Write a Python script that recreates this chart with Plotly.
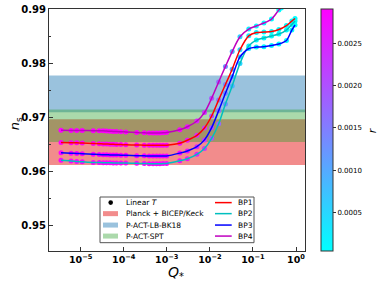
import plotly.graph_objects as go

# ---------------- data ----------------
Q_low = [3.5e-6, 6.0e-6, 8.1e-6, 1.09e-5, 1.96e-5, 2.7e-5, 3.34e-5, 4.0e-5, 4.8e-5,
         5.7e-5, 6.8e-5, 8.6e-5, 1.12e-4, 2.0e-4, 3.0e-4, 3.9e-4, 4.8e-4, 5.8e-4,
         6.9e-4, 8.2e-4, 9.9e-4, 2.0e-3]
Q_high = [3e-3, 5e-3, 7.5e-3, 1.1e-2, 1.6e-2, 2.3e-2, 3.3e-2, 5e-2, 0.08, 0.12,
          0.18, 0.27, 0.4, 0.6, 0.8, 0.95]
Q_bp4_high = [3e-3, 5e-3, 7.5e-3, 1.1e-2, 1.6e-2, 2.3e-2, 3.3e-2, 5e-2, 0.08, 0.12,
              0.18, 0.27, 0.4, 0.46]

r_low = [0.00291, 0.00291, 0.00291, 0.00291, 0.00291, 0.00291, 0.00291, 0.00291,
         0.00291, 0.00291, 0.00291, 0.00291, 0.00290, 0.00290, 0.00290, 0.00290,
         0.00290, 0.00289, 0.00289, 0.00289, 0.00288, 0.00285]
r_high = [0.0027, 0.0025, 0.0023, 0.0020, 0.0017, 0.0013, 0.0009, 0.0005, 0.00025,
          0.00012, 0.00007, 0.00005, 0.00004, 0.00004, 0.00004, 0.00004]
r_bp4_high = [0.0027, 0.0025, 0.0023, 0.0020, 0.0017, 0.0013, 0.0009, 0.0005, 0.00025,
              0.00012, 0.00007, 0.00005, 0.00004, 0.00004]

ns_bp1 = [0.96527, 0.96524, 0.96522, 0.96519, 0.96512, 0.96507, 0.96503, 0.96500,
          0.96498, 0.96495, 0.96493, 0.96490, 0.96486, 0.96482, 0.96479, 0.96477,
          0.96477, 0.96477, 0.96477, 0.96477, 0.96478, 0.96514,
          0.96570, 0.96662, 0.96798, 0.97019, 0.97317, 0.97601, 0.97885, 0.98245,
          0.98503, 0.98564, 0.98573, 0.98583, 0.98620, 0.98694, 0.98777, 0.98824]
ns_bp2 = [0.96199, 0.96188, 0.96178, 0.96170, 0.96160, 0.96157, 0.96155, 0.96153,
          0.96152, 0.96151, 0.96150, 0.96149, 0.96147, 0.96143, 0.96140, 0.96137,
          0.96137, 0.96137, 0.96137, 0.96138, 0.96140, 0.96189,
          0.96228, 0.96310, 0.96419, 0.96605, 0.96876, 0.97241, 0.97575, 0.97993,
          0.98317, 0.98425, 0.98462, 0.98499, 0.98536, 0.98610, 0.98712, 0.98777]
ns_bp3 = [0.96341, 0.96331, 0.96326, 0.96321, 0.96311, 0.96305, 0.96303, 0.96301,
          0.96299, 0.96298, 0.96296, 0.96294, 0.96291, 0.96285, 0.96281, 0.96278,
          0.96278, 0.96278, 0.96278, 0.96279, 0.96280, 0.96332,
          0.96371, 0.96451, 0.96577, 0.96803, 0.97117, 0.97442, 0.97748, 0.98113,
          0.98267, 0.98295, 0.98301, 0.98323, 0.98351, 0.98416, 0.98610, 0.98703]
ns_bp4 = [0.96755, 0.96753, 0.96752, 0.96750, 0.96748, 0.96746, 0.96744, 0.96740,
          0.96737, 0.96733, 0.96730, 0.96727, 0.96724, 0.96714, 0.96708, 0.96705,
          0.96704, 0.96704, 0.96705, 0.96707, 0.96712, 0.96764,
          0.96820, 0.96926, 0.97082, 0.97347, 0.97649, 0.97937, 0.98211, 0.98486,
          0.98629, 0.98685, 0.98740, 0.98814, 0.98981, 0.99020]

bp_names = ["BP1", "BP2", "BP3", "BP4"]
bp_colors = ["rgb(255,0,0)", "rgb(0,191,191)", "rgb(0,0,255)", "rgb(191,0,191)"]

band_names = ["Planck + BICEP/Keck", "P-ACT-LB-BK18", "P-ACT-SPT"]
band_lo = [0.9611, 0.9709, 0.9654]
band_hi = [0.9696, 0.9777, 0.9714]
band_colors = ["rgba(230,25,25,0.5)", "rgba(31,119,180,0.45)", "rgba(44,160,44,0.4)"]

y_ticks = [0.95, 0.96, 0.97, 0.98, 0.99]
x_ticks = [1e-5, 1e-4, 1e-3, 1e-2, 1e-1, 1e0]
x_tick_text = ["10<sup>\u22125</sup>", "10<sup>\u22124</sup>", "10<sup>\u22123</sup>",
               "10<sup>\u22122</sup>", "10<sup>\u22121</sup>", "10<sup>0</sup>"]
cb_ticks = [0.0005, 0.0010, 0.0015, 0.0020, 0.0025]
r_min, r_max = 0.00004, 0.00291

# ---------------- figure ----------------
W, H = 381, 285
L, R, T, B = 49, 76, 9, 34.4
PW, PH = W - L - R, H - T - B


def px2x(px):
    return (px - L) / PW


def py2y(py):
    return (H - B - py) / PH


fig = go.Figure()

series = [
    (Q_low + Q_high, ns_bp1, r_low + r_high),
    (Q_low + Q_high, ns_bp2, r_low + r_high),
    (Q_low + Q_high, ns_bp3, r_low + r_high),
    (Q_low + Q_bp4_high, ns_bp4, r_low + r_bp4_high),
]

# markers coloured by r
for (q, ns, r), name in zip(series, bp_names):
    fig.add_trace(go.Scatter(
        x=q, y=ns, mode="markers", showlegend=False, name=name,
        marker=dict(size=5, color=r, coloraxis="coloraxis", line=dict(width=0)),
        hoverinfo="skip"))

# lines on top
for (q, ns, r), name, col in zip(series, bp_names, bp_colors):
    fig.add_trace(go.Scatter(
        x=q, y=ns, mode="lines", showlegend=False, name=name,
        line=dict(color=col, width=1.5, shape="spline", smoothing=0.8)))

shapes = []
for lo, hi, col in zip(band_lo, band_hi, band_colors):
    shapes.append(dict(type="rect", xref="paper", yref="y", x0=0, x1=1, y0=lo, y1=hi,
                       fillcolor=col, line=dict(width=0), layer="below"))

# ---- manual legend ----
annotations = []
shapes.append(dict(type="rect", xref="paper", yref="paper",
                   x0=px2x(100), x1=px2x(254), y0=py2y(242.3), y1=py2y(196.7),
                   fillcolor="rgba(255,255,255,0.85)", line=dict(color="#555", width=1),
                   layer="above"))
rows_py = [202.3, 213.3, 224.7, 235.7]
left_labels = ["Linear <i>T</i>"] + band_names
for i, (py, lab) in enumerate(zip(rows_py, left_labels)):
    if i == 0:
        shapes.append(dict(type="circle", xref="paper", yref="paper",
                           x0=px2x(108.4), x1=px2x(113.0), y0=py2y(py + 2.3), y1=py2y(py - 2.3),
                           fillcolor="black", line=dict(width=0), layer="above"))
    else:
        shapes.append(dict(type="rect", xref="paper", yref="paper",
                           x0=px2x(103), x1=px2x(118), y0=py2y(py + 2.5), y1=py2y(py - 2.5),
                           fillcolor=band_colors[i - 1], line=dict(width=0), layer="above"))
    annotations.append(dict(x=px2x(123.5), y=py2y(py), xref="paper", yref="paper",
                            text=lab, showarrow=False, xanchor="left", yanchor="middle",
                            font=dict(size=7.5, color="black")))
for py, name, col in zip(rows_py, bp_names, bp_colors):
    shapes.append(dict(type="line", xref="paper", yref="paper",
                       x0=px2x(215), x1=px2x(231.7), y0=py2y(py), y1=py2y(py),
                       line=dict(color=col, width=1.5), layer="above"))
    annotations.append(dict(x=px2x(236), y=py2y(py), xref="paper", yref="paper",
                            text=name, showarrow=False, xanchor="left", yanchor="middle",
                            font=dict(size=7.5, color="black")))

# axis titles and colorbar title
annotations.append(dict(x=px2x(15), y=py2y(124), xref="paper", yref="paper",
                        text="<i>n</i><sub>s</sub>", showarrow=False, textangle=-90,
                        xanchor="center", yanchor="middle",
                        font=dict(size=13, color="black")))
annotations.append(dict(x=px2x(176), y=py2y(273), xref="paper", yref="paper",
                        text="<i>Q</i><sub>*</sub>", showarrow=False,
                        xanchor="center", yanchor="middle",
                        font=dict(size=14, color="black")))
annotations.append(dict(x=px2x(372), y=py2y(130), xref="paper", yref="paper",
                        text="<i>r</i>", showarrow=False, textangle=-90,
                        xanchor="center", yanchor="middle",
                        font=dict(size=11, color="black")))

fig.update_layout(
    width=W, height=H,
    margin=dict(l=L, r=R, t=T, b=B, pad=0, autoexpand=False),
    paper_bgcolor="white", plot_bgcolor="white",
    font=dict(family="DejaVu Sans", color="black"),
    shapes=shapes, annotations=annotations,
    showlegend=False,
    coloraxis=dict(
        cmin=r_min, cmax=r_max,
        colorscale=[[0, "rgb(0,255,255)"], [1, "rgb(255,0,255)"]],
        colorbar=dict(
            x=px2x(321), xanchor="left", xpad=0, ypad=0,
            y=0.5, yanchor="middle", len=1, lenmode="fraction",
            thickness=12, thicknessmode="pixels",
            outlinewidth=1, outlinecolor="#333",
            ticks="outside", ticklen=3, tickwidth=1, tickcolor="#333",
            tickvals=cb_ticks, ticktext=[f"{v:.4f}" for v in cb_ticks],
            tickfont=dict(size=7, family="DejaVu Sans", color="black"),
        ),
    ),
    xaxis=dict(
        type="log", range=[-5.735, 0.209],
        tickvals=x_ticks, ticktext=x_tick_text,
        showgrid=False, zeroline=False,
        showline=True, linecolor="#333", linewidth=1, mirror=True,
        ticks="inside", ticklen=4, tickwidth=1, tickcolor="#333",
        tickfont=dict(size=9.5, family="DejaVu Sans", weight="bold", color="black"),
    ),
    yaxis=dict(
        range=[0.9452, 0.99], tickvals=y_ticks, ticktext=[f"{v:.2f}" for v in y_ticks],
        showgrid=False, zeroline=False,
        showline=True, linecolor="#333", linewidth=1, mirror=True,
        ticks="inside", ticklen=4, tickwidth=1, tickcolor="#333",
        tickfont=dict(size=10, family="DejaVu Sans", weight="bold", color="black"),
        minor=dict(tick0=0.95, dtick=0.005, ticks="inside", ticklen=2, tickcolor="#333"),
    ),
)

fig.write_html("out.html", config={"displayModeBar": False},
               post_script="document.body.style.margin='0px';document.body.style.overflow='hidden';")
